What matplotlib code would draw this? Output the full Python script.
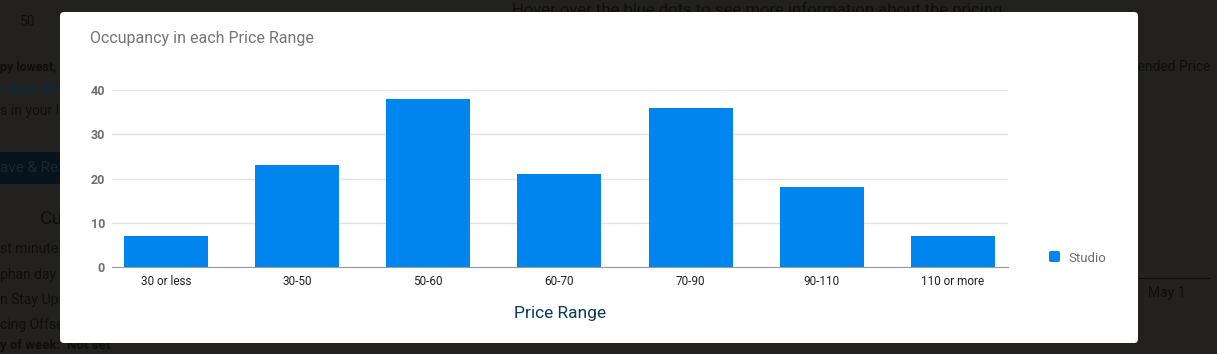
import matplotlib.pyplot as plt
from matplotlib.patches import FancyBboxPatch, Rectangle
from matplotlib.transforms import IdentityTransform

plt.rcParams['font.family'] = ['Roboto', 'DejaVu Sans']

price_ranges = ['30 or less', '30-50', '50-60', '60-70', '70-90', '90-110', '110 or more']
occupancy = [7, 23, 38, 21, 36, 18, 7]
y_ticks = [0, 10, 20, 30, 40]
series_name = 'Studio'

W, H = 1217, 354
fig = plt.figure(figsize=(W / 100, H / 100), dpi=100)
fig.patch.set_facecolor('#222120')

def px(x, y):
    return x / W, 1 - y / H

# dimmed page behind the modal
dim = '#0e0e0e'
bg_texts = [
    (20, 22, '50', dim, 'normal', 10, 'left'),
    (0, 67, 'py lowest, ', dim, 'bold', 9, 'left'),
    (0, 90, 's Base Price', '#0b2a33', 'normal', 10, 'left'),
    (0, 111, 's in your l', dim, 'normal', 10, 'left'),
    (40, 219, 'Cu', dim, 'normal', 14, 'left'),
    (0, 249, 'st minute', dim, 'normal', 10, 'left'),
    (0, 275, 'phan day', dim, 'normal', 10, 'left'),
    (0, 300, 'n Stay Up', dim, 'normal', 10, 'left'),
    (0, 325, 'cing Offse', dim, 'normal', 10, 'left'),
    (0, 345, 'y of week:  Not set', dim, 'bold', 9.5, 'left'),
    (512, 10, 'Hover over the blue dots to see more information about the pricing', dim, 'normal', 12, 'left'),
    (1210, 67, 'Recommended Price', dim, 'normal', 10, 'right'),
    (1148, 293, 'May 1', dim, 'normal', 10, 'left'),
]
for x, y, s, c, w, fs, ha in bg_texts:
    fx, fy = px(x, y)
    fig.text(fx, fy, s, color=c, fontweight=w, fontsize=fs, va='center', ha=ha, zorder=-3)
fig.patches.append(Rectangle((0, H - 184), 70, 32, transform=IdentityTransform(),
                             facecolor='#06121c', edgecolor='none', zorder=-4))
fx, fy = px(0, 168)
fig.text(fx, fy, 'ave & Ref', color='#1a2833', fontsize=11, va='center', zorder=-3)
fig.patches.append(Rectangle((1138, H - 279), 72, 1, transform=IdentityTransform(),
                             facecolor='#0e0e0e', edgecolor='none', zorder=-4))

# modal card
fig.patches.append(FancyBboxPatch((60, H - 343), 1078, 331, boxstyle='round,pad=0,rounding_size=4',
                                  transform=IdentityTransform(), facecolor='white',
                                  edgecolor='none', zorder=-1))

fx, fy = px(90, 38)
fig.text(fx, fy, 'Occupancy in each Price Range', color='#757575', fontsize=11.5, va='center', ha='left')

ax = fig.add_axes([112 / W, 1 - 267 / H, (1008 - 112) / W, (267 - 90) / H])
ax.set_facecolor('none')
x = range(len(price_ranges))
ax.bar(x, occupancy, width=0.64, color='#0084EE', zorder=3, label=series_name)
ax.set_xlim(-0.41, 6.42)
ax.set_ylim(0, 40)
ax.set_yticks(y_ticks)
ax.set_yticklabels([str(v) for v in y_ticks], fontsize=9, fontweight='bold', color='#6e6e6e')
ax.set_xticks(list(x))
ax.set_xticklabels(price_ranges, fontsize=8.5, color='#222222')
ax.tick_params(axis='both', length=0)
ax.tick_params(axis='y', pad=5)
ax.tick_params(axis='x', pad=6)
ax.grid(axis='y', color='#e3e3e3', linewidth=1, zorder=0)
for s in ['top', 'right', 'left']:
    ax.spines[s].set_visible(False)
ax.spines['bottom'].set_color('#9a9a9a')
ax.spines['bottom'].set_zorder(4)
ax.set_xlabel('Price Range', fontsize=12.5, color='#0b3a5c', labelpad=13)

# legend
fig.patches.append(FancyBboxPatch((1049, H - 262), 11, 11, boxstyle='round,pad=0,rounding_size=2',
                                  transform=IdentityTransform(), facecolor='#0084EE', edgecolor='none'))
fx, fy = px(1068, 258)
fig.text(fx, fy, series_name, color='#6e6e6e', fontsize=9.5, va='center', ha='left')

fig.savefig('out.png', dpi=100, facecolor=fig.get_facecolor())
